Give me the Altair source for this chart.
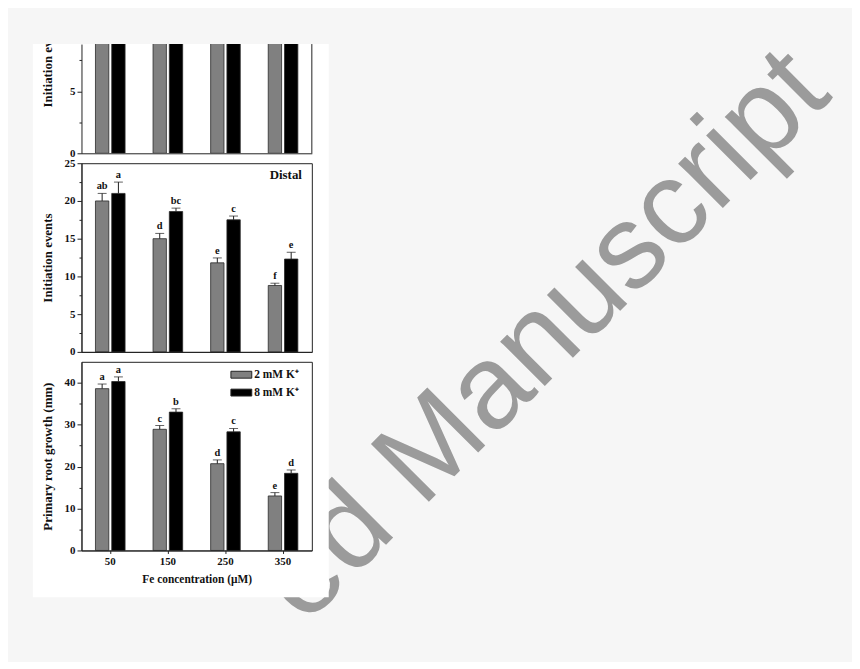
import altair as alt
import pandas as pd

# ---------------- data ----------------
fe_levels = ["50", "150", "250", "350"]
series = ["2 mM K\u207a", "8 mM K\u207a"]

# upper panel (cropped in the source; bars run past the visible range)
top_2 = [15.5, 13.0, 11.5, 10.5]
top_8 = [16.5, 15.0, 14.0, 12.5]

# distal initiation events
distal_2 = [20.0, 15.0, 11.8, 8.8]
distal_2_err = [1.0, 0.7, 0.65, 0.3]
distal_2_let = ["ab", "d", "e", "f"]
distal_8 = [21.0, 18.6, 17.5, 12.3]
distal_8_err = [1.5, 0.45, 0.5, 0.9]
distal_8_let = ["a", "bc", "c", "e"]

# primary root growth (mm)
root_2 = [38.6, 28.9, 20.7, 13.0]
root_2_err = [1.1, 0.9, 0.9, 0.8]
root_2_let = ["a", "c", "d", "e"]
root_8 = [40.3, 33.0, 28.3, 18.4]
root_8_err = [1.1, 0.8, 0.8, 0.8]
root_8_let = ["a", "b", "c", "d"]

BG = "#f6f6f6"
SERIF = "Liberation Serif"
INK = "#1e1e1e"
W = 232


def frame(v2, v8, e2=None, e8=None, l2=None, l8=None):
    rows = []
    for s, v, e, l in ((series[0], v2, e2, l2), (series[1], v8, e8, l8)):
        for i, fe in enumerate(fe_levels):
            err = e[i] if e else 0.0
            rows.append({"fe": fe, "series": s, "value": v[i], "err": err,
                         "top": v[i] + err, "label": l[i] if l else ""})
    return pd.DataFrame(rows)


XO = alt.XOffset("series:N", sort=series,
                 scale=alt.Scale(paddingInner=0.18, paddingOuter=0.86))
FILL_SCALE = alt.Scale(domain=series, range=["#808080", "#000000"])


def yaxis(values, major, title=None, titleY=95):
    kw = dict(values=values,
              labelExpr=f"datum.value % {major} === 0 ? datum.label : ''",
              tickSize={"condition": {"test": f"datum.value % {major} !== 0", "value": 2.5},
                        "value": 4.5},
              labelPadding=2, domain=True, grid=False, zindex=1)
    if title:
        kw.update(title=title, titleX=-30, titleY=titleY, titleAngle=270,
                  titleAlign="center", titleBaseline="alphabetic")
    else:
        kw.update(title=None)
    return alt.Axis(**kw)


def panel(df, dom, axis_y, axis_x, legend=None, clip=False, with_err=True):
    ysc = alt.Scale(domain=dom, nice=False, zero=True)
    xenc = alt.X("fe:N", sort=fe_levels, axis=axis_x,
                 scale=alt.Scale(paddingInner=0, paddingOuter=0))
    fill = alt.Fill("series:N", sort=series, scale=FILL_SCALE, legend=legend)
    bars = alt.Chart(df).mark_bar(stroke="#2a2a2a", strokeWidth=0.8, clip=clip).encode(
        x=xenc, xOffset=XO,
        y=alt.Y("value:Q", scale=ysc, axis=axis_y),
        fill=fill)
    layers = [bars]
    if with_err:
        rule = alt.Chart(df).mark_rule(color=INK, strokeWidth=1).encode(
            x=xenc, xOffset=XO,
            y=alt.Y("value:Q", scale=ysc, axis=axis_y), y2="top:Q")
        cap = alt.Chart(df).mark_tick(color=INK, thickness=1, size=9).encode(
            x=xenc, xOffset=XO,
            y=alt.Y("top:Q", scale=ysc, axis=axis_y))
        txt = alt.Chart(df).mark_text(font=SERIF, fontWeight="bold", fontSize=10.5,
                                      baseline="bottom", dy=-2, color="#111").encode(
            x=xenc, xOffset=XO,
            y=alt.Y("top:Q", scale=ysc, axis=axis_y), text="label:N")
        layers += [rule, cap, txt]
    return layers


one = alt.Data(values=[{"k": 1}])

# ---------------- top (cropped) panel ----------------
df_top = frame(top_2, top_8)
canvas = alt.Chart(one).mark_rect(color=BG).encode(
    x=alt.value(-73), x2=alt.value(771), y=alt.value(-33), y2=alt.value(619))
wm = alt.Chart(one).mark_text(text="ed Manuscript", align="left", baseline="alphabetic",
                              angle=315, font="Liberation Sans", fontSize=120,
                              color="#9b9b9b").encode(x=alt.value(225), y=alt.value(586))
white = alt.Chart(one).mark_rect(color="white").encode(
    x=alt.value(-49), x2=alt.value(249), y=alt.value(0), y2=alt.value(557))
top_title = alt.Chart(one).mark_text(text="Initiation events", angle=270, align="center",
                                     baseline="alphabetic", font=SERIF, fontWeight="bold",
                                     fontSize=13, color="#111").encode(
    x=alt.value(-30), y=alt.value(19))
cover = alt.Chart(one).mark_rect(color=BG).encode(
    x=alt.value(-49), x2=alt.value(249), y=alt.value(-33), y2=alt.value(0))
right_edge = alt.Chart(one).mark_rule(color="#222", strokeWidth=1).encode(
    x=alt.value(W), y=alt.value(0), y2=alt.value(110))

top_layers = panel(df_top, [0, 8.8],
                   yaxis([0, 2.5, 5, 7.5], 5),
                   alt.Axis(labels=False, ticks=False, title=None, domain=True, zindex=1),
                   clip=True, with_err=False)
top_panel = alt.layer(canvas, wm, white, *top_layers, top_title, cover, right_edge).properties(
    width=W, height=110, view=alt.ViewConfig(stroke="transparent"))

# ---------------- distal panel ----------------
df_d = frame(distal_2, distal_8, distal_2_err, distal_8_err, distal_2_let, distal_8_let)
distal_lab = alt.Chart(one).mark_text(text="Distal", align="right", baseline="middle",
                                      font=SERIF, fontWeight="bold", fontSize=13,
                                      color="#111").encode(x=alt.value(222), y=alt.value(12))
d_layers = panel(df_d, [0, 25],
                 yaxis([0, 2.5, 5, 7.5, 10, 12.5, 15, 17.5, 20, 22.5, 25], 5,
                       "Initiation events", 95),
                 alt.Axis(labels=False, ticks=False, title=None, domain=True, zindex=1))
distal_panel = alt.layer(*d_layers, distal_lab).properties(width=W, height=190)

# ---------------- root growth panel ----------------
df_r = frame(root_2, root_8, root_2_err, root_8_err, root_2_let, root_8_let)
legend = alt.Legend(orient="none", legendX=150, legendY=2, title=None,
                    symbolType="M-1,-0.33H1V0.33H-1Z", symbolSize=441,
                    symbolStrokeColor="#222", symbolStrokeWidth=1,
                    labelFont=SERIF, labelFontWeight="bold", labelFontSize=11.5,
                    labelColor="#111", labelOffset=2, padding=0, rowPadding=1)
r_layers = panel(df_r, [0, 45],
                 yaxis([0, 5, 10, 15, 20, 25, 30, 35, 40], 10,
                       "Primary root growth (mm)", 95),
                 alt.Axis(title="Fe concentration (\u03bcM)", labelAngle=0, ticks=True,
                          tickSize=3, labelPadding=2, titlePadding=7, titleFontSize=11.5,
                          domain=True, zindex=1),
                 legend=legend)
root_panel = alt.layer(*r_layers).properties(width=W, height=190)

chart = alt.vconcat(top_panel, distal_panel, root_panel, spacing=10, bounds="flush").resolve_scale(
    fill="independent"
).properties(
    padding=0,
).configure(background=BG).configure_view(
    stroke="#222", strokeWidth=1
).configure_axis(
    labelFont=SERIF, labelFontWeight="bold", labelFontSize=11, labelColor="#111",
    titleFont=SERIF, titleFontWeight="bold", titleFontSize=13, titleColor="#111",
    domainColor="#222", domainWidth=1, tickColor="#222", tickWidth=1
)

chart.save("out.html", embed_options={"renderer": "svg", "actions": False})
